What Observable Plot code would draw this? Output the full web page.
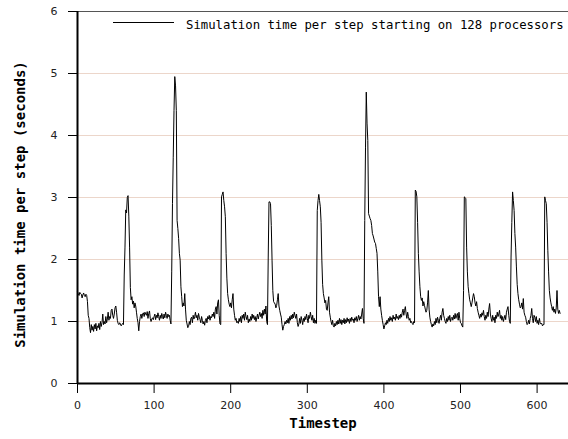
<!DOCTYPE html>
<html><head><meta charset="utf-8">
<script src="https://cdn.jsdelivr.net/npm/d3@7"></script>
<script src="https://cdn.jsdelivr.net/npm/@observablehq/plot@0.6"></script>
<style>
html,body{margin:0;padding:0;background:#fff;}
#chart{width:568px;height:439px;overflow:hidden;}
</style></head><body><div id="chart"></div>
<script>
// seconds per timestep, timestep = index (0..630)
const seconds = [
1.48,1.45,1.42,1.47,1.45,1.44,1.38,1.43,1.46,1.42,1.40,1.44,1.42,1.32,1.10,1.05,0.90,0.82,0.95,0.86,
0.92,0.84,0.95,0.88,0.97,0.85,0.93,0.90,0.97,0.87,1.00,0.92,0.98,1.12,0.95,1.00,0.96,1.08,0.98,1.04,
1.15,1.02,1.08,1.05,1.18,1.20,1.10,1.05,1.12,1.22,1.25,1.15,1.02,0.97,0.95,0.98,0.96,0.93,0.95,0.97,
0.95,1.75,2.20,2.80,2.75,3.00,3.03,2.70,2.20,1.55,1.35,1.40,1.28,1.33,1.22,1.30,1.25,1.15,1.05,0.98,
0.85,1.00,1.08,1.12,1.05,1.12,1.14,1.08,1.15,1.12,1.10,1.16,1.05,1.13,1.17,1.05,1.00,1.04,1.06,1.03,
1.08,1.12,1.03,1.10,1.06,1.14,1.08,1.02,1.10,1.05,1.13,1.08,1.04,1.12,1.06,1.15,1.10,1.05,1.12,1.08,
1.10,1.02,0.96,1.80,2.90,3.65,4.40,4.95,4.80,4.40,2.63,2.50,2.34,2.10,1.99,1.56,1.40,1.24,1.30,1.25,
1.45,1.20,1.02,0.96,0.90,0.92,1.00,0.95,1.05,1.07,0.98,1.10,1.04,1.08,1.15,1.06,1.10,1.02,1.13,1.07,
1.03,0.98,1.08,1.02,0.96,1.00,0.94,1.02,1.05,0.98,1.08,1.04,1.10,1.02,1.08,1.06,1.12,1.08,1.15,1.05,
1.20,1.24,1.12,1.30,1.35,1.10,0.96,0.95,3.01,3.05,3.09,2.95,2.85,2.69,2.10,1.70,1.45,1.35,1.28,1.24,
1.30,1.22,1.35,1.45,1.20,1.10,1.02,1.05,0.98,1.00,0.97,1.05,1.00,1.08,0.98,1.10,1.05,1.12,1.02,1.15,
1.08,1.03,1.10,0.98,1.04,1.00,1.08,1.02,1.12,1.05,1.10,1.03,1.08,1.00,1.06,1.12,1.04,1.10,1.15,1.08,
1.13,1.05,1.18,1.10,1.20,1.12,1.25,1.00,0.95,2.04,2.93,2.93,2.90,2.55,1.99,1.50,1.32,1.30,1.28,1.22,
1.26,1.35,1.45,1.25,1.18,1.12,1.07,0.95,0.86,0.92,0.95,1.00,0.96,1.02,0.98,1.05,0.97,1.08,1.02,1.10,
1.04,1.12,1.06,1.15,1.10,1.05,1.12,0.98,0.92,0.96,1.05,0.97,1.08,1.02,0.95,1.05,1.00,1.08,1.03,1.12,
1.05,0.98,1.10,1.05,1.15,1.08,1.02,1.10,0.98,1.05,0.97,1.02,0.97,2.79,2.95,3.05,2.95,2.85,2.60,1.99,
1.60,1.45,1.38,1.30,1.34,1.20,1.18,1.30,1.40,1.15,1.07,1.00,0.95,1.02,0.93,0.91,0.97,0.93,1.00,0.95,
1.02,0.96,1.05,0.97,1.03,0.95,1.02,0.98,1.05,0.96,1.03,0.98,1.06,1.00,1.04,0.97,1.05,1.00,1.07,1.02,
1.04,0.98,1.06,1.02,1.08,1.00,1.05,1.10,1.02,1.08,1.04,1.12,1.21,1.05,0.97,2.63,3.80,4.70,4.20,3.92,
2.74,2.70,2.66,2.63,2.55,2.42,2.38,2.33,2.28,2.26,2.18,2.10,1.80,1.40,1.24,1.40,1.20,1.10,1.02,0.95,
0.88,0.93,0.98,0.95,1.02,0.97,1.05,1.00,1.08,1.02,1.06,1.00,1.10,1.04,1.07,1.02,1.12,1.05,1.08,1.03,
1.10,1.05,1.12,1.07,1.15,1.20,1.10,1.18,1.24,1.12,1.05,1.15,1.08,1.02,1.05,0.98,1.00,0.97,0.95,1.00,
0.98,3.12,3.10,3.01,2.60,2.10,1.80,1.56,1.40,1.34,1.38,1.25,1.32,1.26,1.20,1.15,1.18,1.30,1.50,1.20,
1.07,1.00,0.95,0.91,0.96,0.93,1.00,0.95,1.05,0.98,1.07,1.02,0.97,1.05,1.10,1.02,1.15,1.21,1.10,1.05,
1.00,0.97,1.05,1.00,1.08,1.02,1.10,1.00,1.05,1.07,1.02,1.10,1.04,1.13,1.05,1.10,1.13,1.02,1.15,1.05,
0.98,0.97,0.93,0.91,1.50,3.01,3.00,2.98,2.20,1.80,1.56,1.45,1.35,1.30,1.24,1.30,1.38,1.45,1.40,1.30,
1.25,1.32,1.21,1.15,1.10,1.05,1.12,1.07,1.14,1.10,1.18,1.08,1.02,1.10,1.05,1.15,1.08,1.20,1.29,1.12,
1.05,1.00,1.10,1.02,1.07,0.98,1.10,1.05,1.15,1.08,1.12,1.18,1.05,1.10,1.02,1.08,1.00,1.05,1.10,1.03,
1.15,1.20,1.24,1.10,1.00,0.97,2.04,2.60,3.09,2.95,2.79,2.42,2.20,1.88,1.60,1.45,1.35,1.28,1.22,1.24,
1.30,1.20,1.37,1.15,1.10,1.07,1.00,0.95,0.97,1.02,0.96,1.05,1.10,1.21,1.05,0.98,1.10,1.07,1.00,1.08,
0.97,1.02,0.95,1.05,0.98,0.96,0.97,0.93,0.95,0.95,3.01,2.95,2.90,2.60,2.15,1.80,1.50,1.38,1.30,1.24,
1.18,1.24,1.15,1.20,1.13,1.22,1.50,1.20,1.13,1.18,1.13
];
const xTicks = [0, 100, 200, 300, 400, 500, 600];
const yTicks = [0, 1, 2, 3, 4, 5, 6];
const yGrid = [1, 2, 3, 4, 5];
const seriesLabel = "Simulation time per step starting on 128 processors";
const xTitle = "Timestep";
const yTitle = "Simulation time per step (seconds)";

const data = seconds.map((v, i) => ({t: i, v}));
const fmt = d => String(d);

const plot = Plot.plot({
  width: 568, height: 439,
  marginLeft: 77, marginRight: 0, marginTop: 11, marginBottom: 56,
  style: {fontFamily: "DejaVu Sans", fontSize: "11px", color: "#222", background: "#fff"},
  x: {domain: [0, 641]},
  y: {domain: [0, 6]},
  marks: [
    Plot.ruleY(yGrid, {stroke: "#ecd6ca", strokeWidth: 1}),
    Plot.ruleY([6], {stroke: "#555", strokeWidth: 1}),
    Plot.axisX(xTicks, {tickSize: 10, tickPadding: 8, label: null, stroke: "#000", tickFormat: fmt}),
    Plot.axisY(yTicks, {tickSize: 9, tickPadding: 11, label: null, stroke: "#000", tickFormat: fmt}),
    Plot.line(data, {x: "t", y: "v", stroke: "#000", strokeWidth: 1}),
    Plot.ruleX([0], {stroke: "#000", strokeWidth: 2}),
    Plot.ruleY([0], {stroke: "#000", strokeWidth: 2}),
    Plot.text([xTitle], {frameAnchor: "bottom", dy: 44, textAnchor: "middle",
      fontFamily: "DejaVu Sans Mono", fontWeight: "bold", fontSize: 14, fill: "#000"}),
    Plot.text([yTitle], {frameAnchor: "left", rotate: -90, dx: -57, dy: 7, textAnchor: "middle",
      fontFamily: "DejaVu Sans Mono", fontWeight: "bold", fontSize: 14, fill: "#000"})
  ]
});

// legend inside the frame, top-right
const svg = d3.select(plot);
const lg = svg.append("g").attr("aria-label", "legend");
lg.append("line").attr("x1", 113).attr("x2", 174).attr("y1", 22.5).attr("y2", 22.5)
  .attr("stroke", "#000").attr("stroke-width", 1);
lg.append("text").attr("x", 186).attr("y", 29).attr("text-anchor", "start")
  .attr("font-family", "DejaVu Sans Mono").attr("font-size", 12.3).attr("fill", "#000")
  .text(seriesLabel);

document.getElementById("chart").appendChild(plot);
</script>
</body></html>
